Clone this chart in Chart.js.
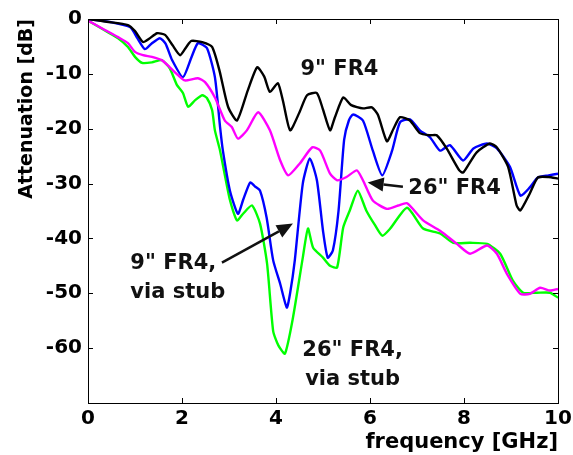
<!DOCTYPE html>
<html>
<head>
<meta charset="utf-8">
<script src="https://cdn.jsdelivr.net/npm/chart.js@4.4.0/dist/chart.umd.min.js"></script>
<style>
  html, body { margin: 0; padding: 0; background: #fff; }
  #wrap { width: 573px; height: 455px; }
</style>
</head>
<body>
<div id="wrap"><canvas id="chart"></canvas></div>
<script>
// 9" FR4
const fBlack = [0, 0.4, 0.85, 1.0, 1.17, 1.3, 1.47, 1.64, 1.8, 1.96, 2.1, 2.2, 2.43, 2.64, 2.8, 2.98, 3.17, 3.4, 3.6, 3.75, 3.87, 4.04, 4.15, 4.3, 4.5, 4.66, 4.87, 5.0, 5.15, 5.25, 5.43, 5.6, 5.85, 6.04, 6.17, 6.36, 6.5, 6.64, 6.85, 7.06, 7.28, 7.42, 7.63, 7.9, 7.98, 8.1, 8.27, 8.55, 8.7, 8.94, 9.12, 9.2, 9.4, 9.57, 9.8, 10];
const dbBlack = [0, -0.5, -1.1, -2.2, -4.2, -3.6, -2.6, -2.9, -4.8, -6.6, -5.0, -4.0, -4.2, -5.1, -9.5, -16, -18.5, -13, -8.8, -10.5, -13.3, -11.7, -15, -20.3, -17, -13.9, -13.5, -16.5, -20.3, -18, -14.3, -15.7, -16.3, -16.1, -17.5, -22.3, -20, -17.9, -18.5, -20.8, -21.2, -21.2, -23.6, -27.6, -28, -26.5, -24.3, -22.7, -23.4, -27, -34, -34.9, -31.8, -28.9, -28.8, -29.1];

// 26" FR4
const fMagenta = [0, 0.36, 0.64, 0.85, 1.0, 1.17, 1.36, 1.57, 1.74, 1.91, 2.06, 2.34, 2.49, 2.7, 2.91, 3.06, 3.19, 3.38, 3.62, 3.87, 4.09, 4.26, 4.51, 4.77, 4.94, 5.15, 5.3, 5.5, 5.72, 5.85, 6.06, 6.36, 6.6, 6.79, 7.13, 7.49, 7.85, 8.13, 8.49, 8.7, 8.91, 9.2, 9.4, 9.62, 9.83, 10];
const dbMagenta = [-0.3, -2, -3.3, -4.4, -6, -6.6, -6.9, -7.5, -8.8, -10.2, -11.2, -10.8, -11.5, -14.3, -18.5, -19.7, -21.8, -20.3, -17, -20.3, -25.8, -28.5, -26.3, -23.4, -24, -28.2, -29.4, -28.8, -27.6, -29.4, -33.1, -34.6, -34, -33.6, -36.7, -38.6, -41, -42.8, -41.3, -42.8, -46.4, -50.1, -50.1, -49, -49.5, -49.2];

// 9" FR4, via stub
const fBlue = [0, 0.5, 0.9, 1.05, 1.21, 1.35, 1.53, 1.65, 1.79, 2.02, 2.2, 2.34, 2.53, 2.7, 2.81, 2.87, 3.02, 3.19, 3.3, 3.45, 3.55, 3.66, 3.8, 3.94, 4.09, 4.23, 4.3, 4.4, 4.57, 4.72, 4.87, 5.0, 5.1, 5.21, 5.33, 5.45, 5.55, 5.64, 5.85, 6.06, 6.26, 6.47, 6.64, 6.85, 7.06, 7.28, 7.49, 7.7, 7.98, 8.2, 8.49, 8.7, 8.98, 9.2, 9.4, 9.57, 9.8, 10];
const dbBlue = [0, -0.6, -1.5, -3.5, -5.5, -4.5, -3.5, -4.5, -7.5, -10.6, -7, -4.4, -5.3, -10.6, -19.7, -24, -31.3, -35.5, -33, -29.8, -30.5, -31.3, -36.2, -44, -48.3, -52.6, -50, -44, -30, -25.4, -29.4, -38.6, -43.5, -42.2, -35, -22, -18.5, -17.4, -18.5, -24, -28.5, -24, -18.8, -18.3, -20.3, -21.6, -24, -23, -25.8, -23.6, -22.7, -23.6, -27, -32.2, -30.7, -28.9, -28.5, -28.2];

// 26" FR4, via stub
const fGreen = [0, 0.36, 0.64, 0.85, 1.0, 1.15, 1.36, 1.57, 1.74, 1.89, 2.02, 2.13, 2.28, 2.43, 2.53, 2.64, 2.7, 2.81, 3.02, 3.17, 3.3, 3.49, 3.66, 3.81, 3.94, 4.05, 4.19, 4.36, 4.57, 4.68, 4.79, 5.0, 5.15, 5.3, 5.43, 5.57, 5.74, 5.92, 6.1, 6.26, 6.43, 6.79, 7.13, 7.49, 7.77, 8.13, 8.49, 8.77, 9.04, 9.26, 9.55, 9.83, 10];
const dbGreen = [-0.3, -2.1, -3.5, -5.1, -6.9, -8.0, -7.9, -7.5, -9, -12, -13.5, -16, -14.8, -13.9, -14.4, -16.6, -20.3, -24, -33, -36.7, -35.5, -34, -37.3, -44.6, -56.9, -59.5, -61, -54.5, -43.5, -38.2, -41.7, -43.5, -45, -45.3, -38, -34.9, -31.3, -34.9, -37.5, -39.5, -38.2, -34.4, -38.2, -39.1, -40.8, -40.8, -41, -42.8, -47.7, -49.9, -49.9, -49.9, -50.8];

const xTicks = [0, 2, 4, 6, 8, 10];
const yTicks = [0, -10, -20, -30, -40, -50, -60];

// text labels and arrows, in data units
const labels = [
  { lines: ['9" FR4'], f: 5.35, db: -9.3, align: 'center' },
  { lines: ['26" FR4'], f: 7.8, db: -30.9, align: 'center' },
  { lines: ['9" FR4,', 'via stub'], f: 0.9, db: -44.6, align: 'left' },
  { lines: ['26" FR4,', 'via stub'], f: 5.63, db: -60.5, align: 'center' }
];
const arrows = [
  { from: [6.7, -30.6], to: [5.95, -29.8] },
  { from: [2.85, -44.4], to: [4.36, -37.3] }
];

const pts = (xs, ys) => xs.map((x, i) => ({ x: x, y: ys[i] }));
const FONT = '"DejaVu Sans", "Liberation Sans", Arial, sans-serif';

const boxPlugin = {
  id: 'boxPlugin',
  afterDatasetsDraw(chart) {
    const ctx = chart.ctx;
    const a = chart.chartArea;
    const xs = chart.scales.x, ys = chart.scales.y;
    ctx.save();
    ctx.strokeStyle = '#000';
    ctx.lineWidth = 1;
    ctx.strokeRect(Math.round(a.left) + 0.5, Math.round(a.top) + 0.5, Math.round(a.right - a.left), Math.round(a.bottom - a.top));
    ctx.beginPath();
    xTicks.forEach(v => {
      const px = Math.round(xs.getPixelForValue(v)) + 0.5;
      ctx.moveTo(px, a.bottom); ctx.lineTo(px, a.bottom - 5);
      ctx.moveTo(px, a.top); ctx.lineTo(px, a.top + 5);
    });
    yTicks.forEach(v => {
      const py = Math.round(ys.getPixelForValue(v)) + 0.5;
      ctx.moveTo(a.left, py); ctx.lineTo(a.left + 5, py);
      ctx.moveTo(a.right, py); ctx.lineTo(a.right - 5, py);
    });
    ctx.stroke();

    // annotations
    ctx.fillStyle = '#111';
    ctx.font = 'bold 21px ' + FONT;
    ctx.textBaseline = 'middle';
    labels.forEach(l => {
      ctx.textAlign = l.align;
      const px = xs.getPixelForValue(l.f);
      const py = ys.getPixelForValue(l.db);
      l.lines.forEach((t, i) => ctx.fillText(t, px, py + i * 29));
    });
    ctx.strokeStyle = '#111';
    ctx.lineWidth = 2.5;
    arrows.forEach(ar => {
      const x1 = xs.getPixelForValue(ar.from[0]), y1 = ys.getPixelForValue(ar.from[1]);
      const x2 = xs.getPixelForValue(ar.to[0]), y2 = ys.getPixelForValue(ar.to[1]);
      const ang = Math.atan2(y2 - y1, x2 - x1);
      const hl = 16, hw = 7;
      const bx = x2 - hl * Math.cos(ang), by = y2 - hl * Math.sin(ang);
      ctx.beginPath();
      ctx.moveTo(x1, y1); ctx.lineTo(bx, by);
      ctx.stroke();
      ctx.beginPath();
      ctx.moveTo(x2, y2);
      ctx.lineTo(bx + hw * Math.sin(ang), by - hw * Math.cos(ang));
      ctx.lineTo(bx - hw * Math.sin(ang), by + hw * Math.cos(ang));
      ctx.closePath();
      ctx.fill();
    });
    ctx.restore();
  }
};

const line = (data, color) => ({
  data: data, borderColor: color, backgroundColor: color,
  borderWidth: 2.4, pointRadius: 0, tension: 0.2, fill: false
});

new Chart(document.getElementById('chart'), {
  type: 'line',
  data: {
    datasets: [
      line(pts(fBlack, dbBlack), '#000000'),
      line(pts(fMagenta, dbMagenta), '#ff00ff'),
      line(pts(fBlue, dbBlue), '#0000ff'),
      line(pts(fGreen, dbGreen), '#00ff00')
    ]
  },
  options: {
    responsive: true,
    maintainAspectRatio: false,
    animation: false,
    devicePixelRatio: 1,
    layout: { padding: { top: 19, right: 15, left: 16, bottom: 0 } },
    plugins: { legend: { display: false }, tooltip: { enabled: false } },
    scales: {
      x: {
        type: 'linear', min: 0, max: 10,
        afterBuildTicks: s => { s.ticks = xTicks.map(v => ({ value: v })); },
        afterFit: s => { s.height = 52; s.paddingRight = 0; s.paddingLeft = 0; },
        ticks: { color: '#000', padding: 4, maxRotation: 0, font: { family: FONT, size: 20, weight: 'bold' } },
        grid: { display: false, drawTicks: false },
        border: { display: false },
        title: { display: true, text: 'frequency [GHz]', align: 'end', color: '#000', padding: { top: 0, bottom: 0 }, font: { family: FONT, size: 21, weight: 'bold' } }
      },
      y: {
        type: 'linear', min: -70, max: 0,
        afterBuildTicks: s => { s.ticks = yTicks.map(v => ({ value: v })); },
        afterFit: s => { s.width = 72; },
        ticks: { color: '#000', padding: 6, font: { family: FONT, size: 20, weight: 'bold' } },
        grid: { display: false, drawTicks: false },
        border: { display: false },
        title: { display: true, text: 'Attenuation [dB]', align: 'end', color: '#000', padding: { top: 0, bottom: 4 }, font: { family: FONT, size: 19, weight: 'bold' } }
      }
    }
  },
  plugins: [boxPlugin]
});
</script>
</body>
</html>
